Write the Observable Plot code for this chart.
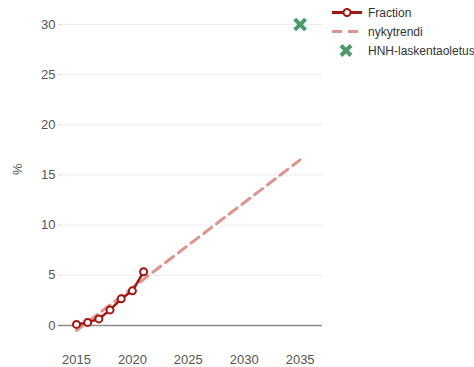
<!DOCTYPE html>
<html>
<head>
<meta charset="utf-8">
<script src="https://cdn.jsdelivr.net/npm/d3@7"></script>
<script src="https://cdn.jsdelivr.net/npm/@observablehq/plot@0.6"></script>
<style>
  body { margin: 0; background: #fff; font-family: "Liberation Sans", Arial, sans-serif; }
  #wrap { position: relative; width: 474px; height: 367px; overflow: hidden; }
  #legend { position: absolute; left: 330px; top: 3px; font-size: 12px; color: #333; white-space: nowrap; width: 150px; }
  .row { display: flex; align-items: center; height: 19px; white-space: nowrap; }
  .row svg { width: 34px; height: 19px; margin-right: 4px; flex: none; }
</style>
</head>
<body>
<div id="wrap"></div>
<script>
const years = [2015, 2016, 2017, 2018, 2019, 2020, 2021];
const fraction = [0.1, 0.3, 0.65, 1.55, 2.65, 3.45, 5.35];
const trendYears = [2015, 2035];
const trendValues = [-0.5, 16.5];
const hnhYears = [2035];
const hnhValues = [30];
const yTicks = [0, 5, 10, 15, 20, 25, 30];
const xTicks = [2015, 2020, 2025, 2030, 2035];
const seriesNames = ["Fraction", "nykytrendi", "HNH-laskentaoletus"];
const yAxisLabel = "%";

const cRed = "#a3150f", cPink = "#e0928c", cGreen = "#4a9a6a";

const fracData = years.map((y, i) => ({year: y, value: fraction[i]}));
const trendData = trendYears.map((y, i) => ({year: y, value: trendValues[i]}));
const hnhData = hnhYears.map((y, i) => ({year: y, value: hnhValues[i]}));

const chart = Plot.plot({
  width: 474,
  height: 367,
  marginLeft: 62,
  marginRight: 152,
  marginTop: 24,
  marginBottom: 22,
  style: {fontFamily: "Liberation Sans, Arial, sans-serif", fontSize: "13px", background: "#fff"},
  x: {domain: [2013.75, 2037], label: null},
  y: {domain: [-2, 30], label: null},
  marks: [
    Plot.ruleY(yTicks.filter(d => d !== 0), {stroke: "#ebebeb", strokeWidth: 1}),
    Plot.axisY({ticks: yTicks, tickSize: 4, tickPadding: 3, stroke: "#ddd", fill: "#555", label: null, tickFormat: d => d}),
    Plot.axisX({ticks: xTicks, tickSize: 0, tickPadding: 9, fill: "#555", label: null, tickFormat: d => String(d)}),
    Plot.ruleY([0], {x1: 2013.4, x2: 2037, stroke: "#8a8a8a", strokeWidth: 1.5}),
    Plot.text([15], {y: d => d, text: () => yAxisLabel, frameAnchor: "left", dx: -45, rotate: -90, fill: "#555", fontSize: 13}),
    Plot.line(trendData, {x: "year", y: "value", stroke: cPink, strokeWidth: 3, strokeDasharray: "10,6"}),
    Plot.line(fracData, {x: "year", y: "value", stroke: cRed, strokeWidth: 2.5}),
    Plot.dot(fracData, {x: "year", y: "value", r: 3.5, fill: "#fff", stroke: cRed, strokeWidth: 2}),
    Plot.dot(hnhData, {x: "year", y: "value", symbol: "times", r: 5, stroke: cGreen, strokeWidth: 4})
  ]
});
const wrap = document.getElementById("wrap");
wrap.appendChild(chart);

const legend = document.createElement("div");
legend.id = "legend";
const samples = [
  `<line x1="2" y1="9.5" x2="32" y2="9.5" stroke="${cRed}" stroke-width="3"/><circle cx="17" cy="9.5" r="3.5" fill="#fff" stroke="${cRed}" stroke-width="2"/>`,
  `<line x1="2" y1="9.5" x2="32" y2="9.5" stroke="${cPink}" stroke-width="3" stroke-dasharray="10,6"/>`,
  `<path d="M11,4.5L21,14.5M21,4.5L11,14.5" stroke="${cGreen}" stroke-width="4"/>`
];
legend.innerHTML = seriesNames.map((n, i) =>
  `<div class="row"><svg viewBox="0 0 34 19">${samples[i]}</svg><span>${n}</span></div>`).join("");
wrap.appendChild(legend);
</script>
</body>
</html>
